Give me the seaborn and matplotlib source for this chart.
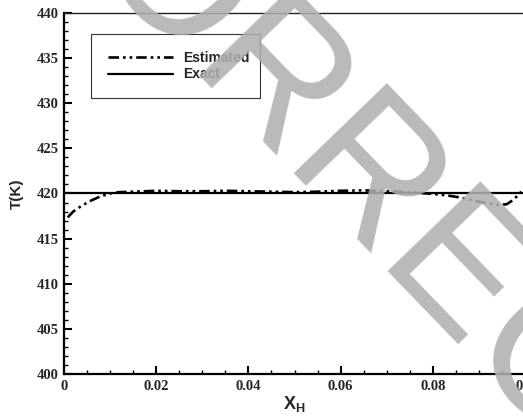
import pandas as pd
import matplotlib
matplotlib.use('Agg')
import matplotlib.pyplot as plt
import seaborn as sns

# data
x_est = [0.0008, 0.002, 0.004, 0.006, 0.008, 0.010, 0.012, 0.015, 0.020, 0.025,
         0.030, 0.035, 0.040, 0.045, 0.050, 0.055, 0.060, 0.065, 0.070, 0.075,
         0.080, 0.083, 0.086, 0.089, 0.092, 0.094, 0.096, 0.0975, 0.0992]
t_est = [417.35, 418.0, 418.7, 419.25, 419.7, 420.0, 420.15, 420.2, 420.3, 420.25,
         420.25, 420.3, 420.25, 420.2, 420.15, 420.2, 420.3, 420.35, 420.25, 420.15,
         419.95, 419.8, 419.55, 419.2, 418.9, 418.75, 418.8, 419.3, 420.2]
x_exact = [0.0, 0.0995]
t_exact = [420.0, 420.0]

est = pd.DataFrame({'x': x_est, 'T': t_est})
exact = pd.DataFrame({'x': x_exact, 'T': t_exact})

sns.set_style('white')
plt.rcParams['font.family'] = ['Liberation Sans', 'DejaVu Sans']

fig = plt.figure(figsize=(5.23, 4.18), dpi=100)
ax = fig.add_axes([0.1224, 0.1053, 0.8814, 0.8636])

sns.lineplot(data=est, x='x', y='T', ax=ax, color='black', lw=1.9,
             estimator=None, sort=False, label='Estimated',
             linestyle=(0, (4, 1.5, 1, 1.5, 1, 1.5)))
sns.lineplot(data=exact, x='x', y='T', ax=ax, color='black', lw=1.6,
             estimator=None, sort=False, label='Exact')

ax.set_xlim(0, 0.1)
ax.set_ylim(400, 440)
ax.set_xticks([0, 0.02, 0.04, 0.06, 0.08, 0.1])
ax.set_xticklabels(['0', '0.02', '0.04', '0.06', '0.08', '0.1'])
ax.set_xticks([i * 0.005 for i in range(21)], minor=True)
ax.set_yticks(range(400, 441, 5))
ax.set_yticks(range(400, 441, 1), minor=True)

tick_font = {'family': 'Liberation Serif', 'weight': 'bold', 'size': 10.5}
for lab in ax.get_xticklabels() + ax.get_yticklabels():
    lab.set_fontproperties(matplotlib.font_manager.FontProperties(**tick_font))

ax.tick_params(which='major', direction='in', length=6, width=1.5, color='black', pad=4)
ax.tick_params(which='minor', direction='in', length=3, width=1.0, color='black')
ax.tick_params(axis='y', which='both', left=True)
ax.tick_params(axis='x', which='both', bottom=True)

for side in ['left', 'bottom']:
    ax.spines[side].set_linewidth(1.6)
    ax.spines[side].set_color('black')
ax.spines['top'].set_linewidth(1.0)
ax.spines['top'].set_color('#222222')
ax.spines['right'].set_linewidth(1.0)
ax.spines['right'].set_color('#222222')

ax.set_ylabel('T(K)', fontsize=11, fontweight='bold', labelpad=9)
ax.set_xlabel(r'X$_\mathregular{H}$', fontsize=13, fontweight='bold', labelpad=1)

leg = ax.legend(loc='upper left', bbox_to_anchor=(0.0586, 0.942, 0.367, 0.0),
                mode='expand', prop={'weight': 'bold', 'size': 10},
                handlelength=4.7, handletextpad=0.7, labelspacing=0.2,
                borderpad=1.2, fancybox=False, framealpha=1, borderaxespad=0)
leg.get_frame().set_edgecolor('#333333')
leg.get_frame().set_linewidth(0.8)

# diagonal watermark over the figure
fig.text(0.836, 0.37, 'CORRECTED', fontsize=135, color='#b0b0b0', alpha=0.88,
         rotation=-46, rotation_mode='anchor', ha='center', va='center',
         family='Liberation Sans', zorder=10)

fig.savefig('out.png', dpi=100)
